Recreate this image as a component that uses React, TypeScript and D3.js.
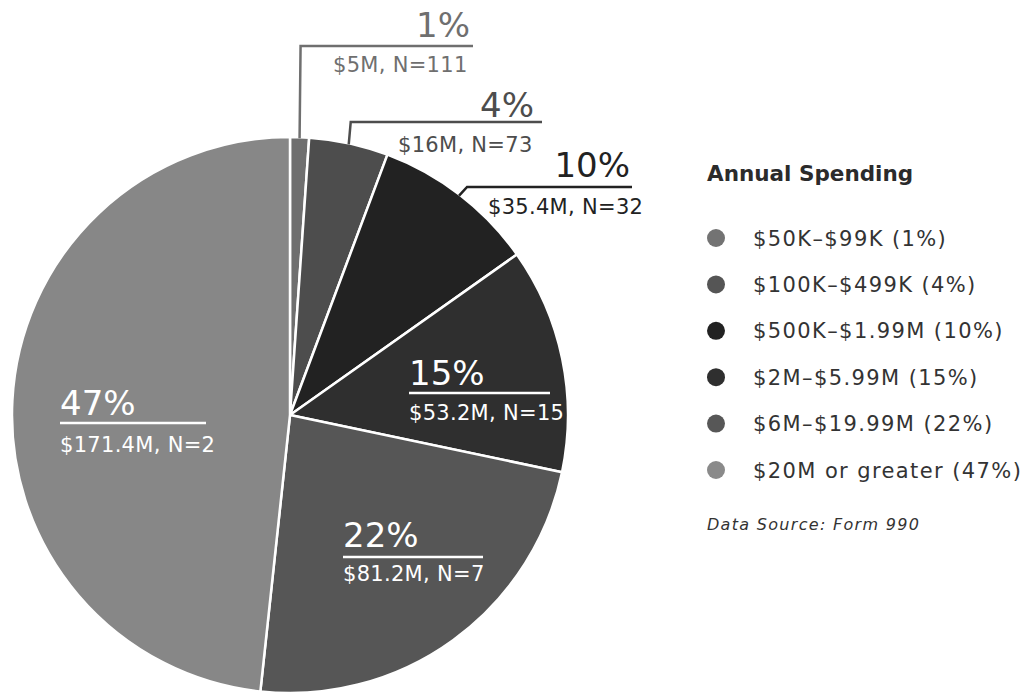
import React from "react";
import * as d3 from "d3";

const categories = [
  "$50K–$99K",
  "$100K–$499K",
  "$500K–$1.99M",
  "$2M–$5.99M",
  "$6M–$19.99M",
  "$20M or greater",
];
const percentLabels = ["1%", "4%", "10%", "15%", "22%", "47%"];
const spendingLabels = [
  "$5M, N=111",
  "$16M, N=73",
  "$35.4M, N=32",
  "$53.2M, N=15",
  "$81.2M, N=7",
  "$171.4M, N=2",
];
// share of the circle each slice takes in the drawing (%)
const sliceShares = [1.1, 4.6, 9.5, 13.1, 23.4, 48.3];
const sliceColors = ["#6f6f6f", "#4d4d4d", "#222222", "#2f2f2f", "#565656", "#878787"];
const legendColors = ["#737373", "#555555", "#222222", "#2f2f2f", "#575757", "#8a8a8a"];

const FONT = "'DejaVu Sans', sans-serif";

const width = 1026;
const height = 692;
const cx = 290;
const cy = 415;
const radius = 278;

// callouts outside the pie (first three slices)
const outsideLayout = [
  { lineY: 46, elbowDx: 1, lineEnd: 473, pctX: 470, pctY: 37, subX: 333, subY: 72 },
  { lineY: 122, elbowDx: 2, lineEnd: 542, pctX: 534, pctY: 117, subX: 398, subY: 152 },
  { lineY: 187, elbowDx: 8, lineEnd: 632, pctX: 630, pctY: 177, subX: 488, subY: 214 },
];
// labels drawn inside the other slices
const insideLayout = [
  { x: 409, pctY: 385, lineY: 393, lineEnd: 550, subY: 420 },
  { x: 343, pctY: 547, lineY: 557, lineEnd: 483, subY: 581 },
  { x: 60, pctY: 415, lineY: 423, lineEnd: 206, subY: 452 },
];

export default function App() {
  const pie = d3
    .pie<number>()
    .sort(null)
    .value((d) => d)
    .startAngle(0)
    .endAngle(2 * Math.PI);
  const arcs = pie(sliceShares);
  const arc = d3.arc<d3.PieArcDatum<number>>().innerRadius(0).outerRadius(radius);
  const edge = d3.arc<d3.PieArcDatum<number>>().innerRadius(radius - 1).outerRadius(radius - 1);

  const legendY = d3
    .scalePoint<string>()
    .domain(categories)
    .range([238, 470]);

  return (
    <svg
      width={width}
      height={height}
      style={{ position: "absolute", left: 0, top: 0, background: "#fff" }}
      fontFamily={FONT}
    >
      <g transform={`translate(${cx},${cy})`}>
        {arcs.map((a, i) => (
          <path key={i} d={arc(a) || ""} fill={sliceColors[i]} stroke="#fff" strokeWidth={2.5} />
        ))}
      </g>

      {outsideLayout.map((l, i) => {
        const [ex, ey] = edge.centroid(arcs[i]);
        const sx = cx + ex;
        const sy = cy + ey;
        const color = sliceColors[i];
        return (
          <g key={i}>
            <path
              d={`M${sx},${sy}L${sx + l.elbowDx},${l.lineY}L${l.lineEnd},${l.lineY}`}
              fill="none"
              stroke={color}
              strokeWidth={2.5}
            />
            <text x={l.pctX} y={l.pctY} textAnchor="end" fontSize={34} fill={color}>
              {percentLabels[i]}
            </text>
            <text x={l.subX} y={l.subY} fontSize={21} letterSpacing={0.3} fill={color}>
              {spendingLabels[i]}
            </text>
          </g>
        );
      })}

      {insideLayout.map((l, j) => {
        const i = j + 3;
        return (
          <g key={i} fill="#fff">
            <text x={l.x} y={l.pctY} fontSize={34}>
              {percentLabels[i]}
            </text>
            <line x1={l.x} x2={l.lineEnd} y1={l.lineY} y2={l.lineY} stroke="#fff" strokeWidth={2.5} />
            <text x={l.x} y={l.subY} fontSize={21} letterSpacing={0.3}>
              {spendingLabels[i]}
            </text>
          </g>
        );
      })}

      <g>
        <text x={707} y={181} fontSize={21.5} fontWeight="bold" fill="#2b2b2b">
          Annual Spending
        </text>
        {categories.map((c, i) => {
          const y = legendY(c) || 0;
          return (
            <g key={c}>
              <circle cx={716} cy={y} r={9} fill={legendColors[i]} />
              <text x={753} y={y + 7.5} fontSize={21} letterSpacing={1.4} fill="#333">
                {`${c} (${percentLabels[i]})`}
              </text>
            </g>
          );
        })}
        <text x={707} y={530} fontSize={16} fontStyle="italic" letterSpacing={1.3} fill="#333">
          Data Source: Form 990
        </text>
      </g>
    </svg>
  );
}
